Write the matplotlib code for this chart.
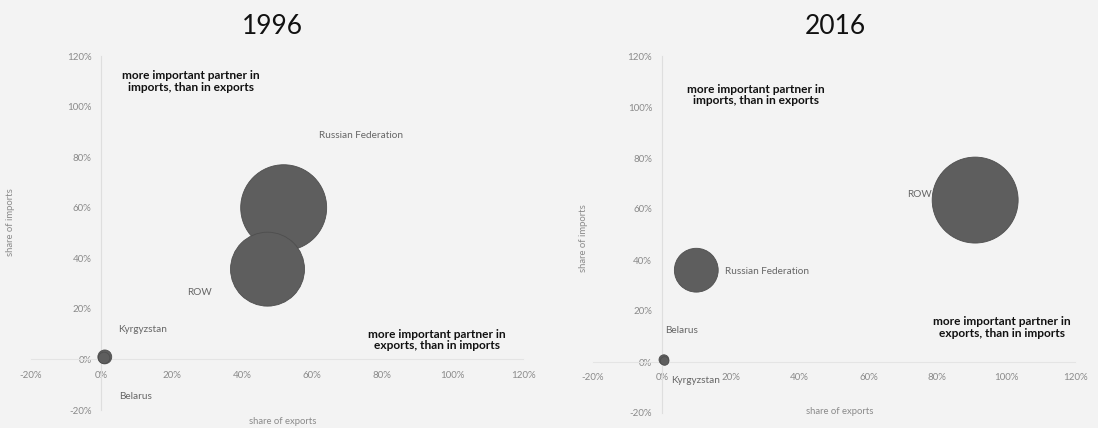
import matplotlib
matplotlib.use("Agg")
import matplotlib.pyplot as plt
from matplotlib.ticker import FuncFormatter, MultipleLocator

plt.rcParams['font.family'] = ['Lato', 'DejaVu Sans']

# ---------------- data ----------------
countries_1996 = ["Russian Federation", "ROW", "Kyrgyzstan", "Belarus"]
exports_1996 = [51.9, 47.3, 1.0, 0.8]      # share of exports, %
imports_1996 = [60.0, 35.7, 1.0, 0.6]      # share of imports, %
volume_1996 = [100, 74, 2.6, 1.8]          # relative bubble size

countries_2016 = ["Russian Federation", "ROW", "Belarus", "Kyrgyzstan"]
exports_2016 = [10.0, 91.0, 0.6, 0.8]
imports_2016 = [36.0, 63.5, 0.9, 0.4]
volume_2016 = [26, 100, 1.3, 1.0]

tick_values = [-20, 0, 20, 40, 60, 80, 100, 120]
titles = ["1996", "2016"]
note_imports = "more important partner in\nimports, than in exports"
note_exports = "more important partner in\nexports, than in imports"

# ---------------- styling ----------------
W, H = 1098, 428
fig = plt.figure(figsize=(W / 100, H / 100), dpi=100)
fig.patch.set_facecolor("#f3f3f3")

bubble_color = "#5e5e5e"
tick_color = "#8a8a8a"
label_color = "#666666"
SCALE = 38.3  # area (pt^2) per unit of volume

def px_ax(l, r, t, b):
    return [l / W, 1 - b / H, (r - l) / W, (b - t) / H]

panels = [
    dict(rect=px_ax(31, 523, 56, 410), x=exports_1996, y=imports_1996,
         v=volume_1996, names=countries_1996,
         offsets={"Russian Federation": (56, 52, "center"),
                  "ROW": (-49, -17, "center"),
                  "Kyrgyzstan": (27, 20, "center"),
                  "Belarus": (23, -28, "center")},
         note1=(25.5, 110.0), note2=(95.5, 7.7),
         xlab=(283, 422), ylab=(11, 222)),
    dict(rect=px_ax(593, 1075, 56, 413), x=exports_2016, y=imports_2016,
         v=volume_2016, names=countries_2016,
         offsets={"Russian Federation": (21, -1, "left"),
                  "ROW": (-31, 4, "right"),
                  "Belarus": (13, 21, "center"),
                  "Kyrgyzstan": (22, -14, "center")},
         note1=(27.3, 104.7), note2=(98.8, 13.7),
         xlab=(840, 411), ylab=(584, 238)),
]

for i, p in enumerate(panels):
    ax = fig.add_axes(p["rect"])
    ax.set_facecolor("none")
    ax.set_xlim(tick_values[0], tick_values[-1])
    ax.set_ylim(tick_values[0], tick_values[-1])
    ax.xaxis.set_major_locator(MultipleLocator(20))
    ax.yaxis.set_major_locator(MultipleLocator(20))
    fmt = FuncFormatter(lambda v, pos: f"{int(round(v))}%")
    ax.xaxis.set_major_formatter(fmt)
    ax.yaxis.set_major_formatter(fmt)
    for s in ["top", "right"]:
        ax.spines[s].set_visible(False)
    ax.spines["left"].set_position(("data", 0))
    ax.spines["bottom"].set_position(("data", 0))
    ax.spines["left"].set_color("#dedede")
    ax.spines["bottom"].set_color("#e4e4e4")
    ax.spines["left"].set_linewidth(0.8)
    ax.spines["bottom"].set_linewidth(0.8)
    ax.tick_params(axis="both", length=0, labelsize=7, labelcolor=tick_color)
    ax.tick_params(axis="x", pad=8)
    ax.tick_params(axis="y", pad=7)

    sizes = [v * SCALE for v in p["v"]]
    ax.scatter(p["x"], p["y"], s=sizes, c=bubble_color, edgecolors="#4e4e4e",
               linewidths=0.6, zorder=3, clip_on=False)

    for name, xv, yv in zip(p["names"], p["x"], p["y"]):
        dx, dy, ha = p["offsets"][name]
        ax.annotate(name, (xv, yv), xytext=(dx, dy), textcoords="offset points",
                    ha=ha, va="center", fontsize=7.2, color=label_color, zorder=4)

    ax.text(*p["note1"], note_imports, ha="center", va="center", fontsize=8.6,
            fontweight="bold", color="#111111", linespacing=1.1)
    ax.text(*p["note2"], note_exports, ha="center", va="center", fontsize=8.6,
            fontweight="bold", color="#111111", linespacing=1.1)

    fig.text(p["xlab"][0] / W, 1 - p["xlab"][1] / H, "share of exports",
             ha="center", va="center", fontsize=6.8, color=tick_color)
    fig.text(p["ylab"][0] / W, 1 - p["ylab"][1] / H, "share of imports",
             ha="center", va="center", fontsize=6.8, color=tick_color, rotation=90)

fig.text(272 / W, 1 - 27 / H, titles[0], ha="center", va="center",
         fontsize=19, color="#111111")
fig.text(835 / W, 1 - 27 / H, titles[1], ha="center", va="center",
         fontsize=19, color="#111111")

fig.savefig("out.png", dpi=100, facecolor=fig.get_facecolor())
